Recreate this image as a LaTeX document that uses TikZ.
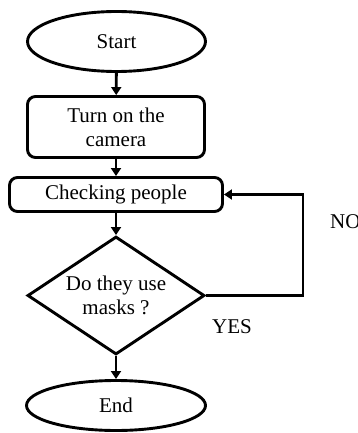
\documentclass[tikz,border=0pt]{standalone}
\usepackage{fontspec}
\setmainfont{Liberation Serif}
\usetikzlibrary{shapes.geometric,arrows.meta}
\begin{document}
\begin{tikzpicture}[x=1pt,y=-1pt,
  every node/.style={font=\fontsize{21}{24}\selectfont},
  shp/.style={draw,line width=2.9pt,inner sep=0pt,align=center},
  term/.style={shp,ellipse},
  proc/.style={shp,rectangle,rounded corners=8pt},
  dec/.style={shp,diamond,shape aspect=1.5},
  conn/.style={line width=2.9pt,-{Triangle[width=10pt,length=8pt]}},
  lbl/.style={inner sep=0pt}]
\useasboundingbox (0,0) rectangle (357,433);
\clip (0,0) rectangle (357,433);
\node[term,minimum width=178pt,minimum height=60pt] (start) at (116.5,41.5) {Start};
\node[proc,minimum width=177pt,minimum height=61pt] (cam) at (116,127) {Turn on the\\camera};
\node[proc,minimum width=213pt,minimum height=34pt] (chk) at (116,194.5) {Checking people};
\node[dec,minimum width=177pt,minimum height=118pt] (dec) at (116,295.5) {Do they use\\masks ?};
\node[term,minimum width=179pt,minimum height=50pt] (end) at (116,405.5) {End};
\draw[conn] (start) -- (cam);
\draw[conn] (cam) -- (chk);
\draw[conn] (chk) -- (dec);
\draw[conn] (dec) -- (end);
\draw[conn] (dec.east) -- (303,295.5) |- (chk.east);
\node[lbl,anchor=west] (no) at (330,222) {NO};
\node[lbl] (yes) at (232,327) {YES};
\end{tikzpicture}
\end{document}
